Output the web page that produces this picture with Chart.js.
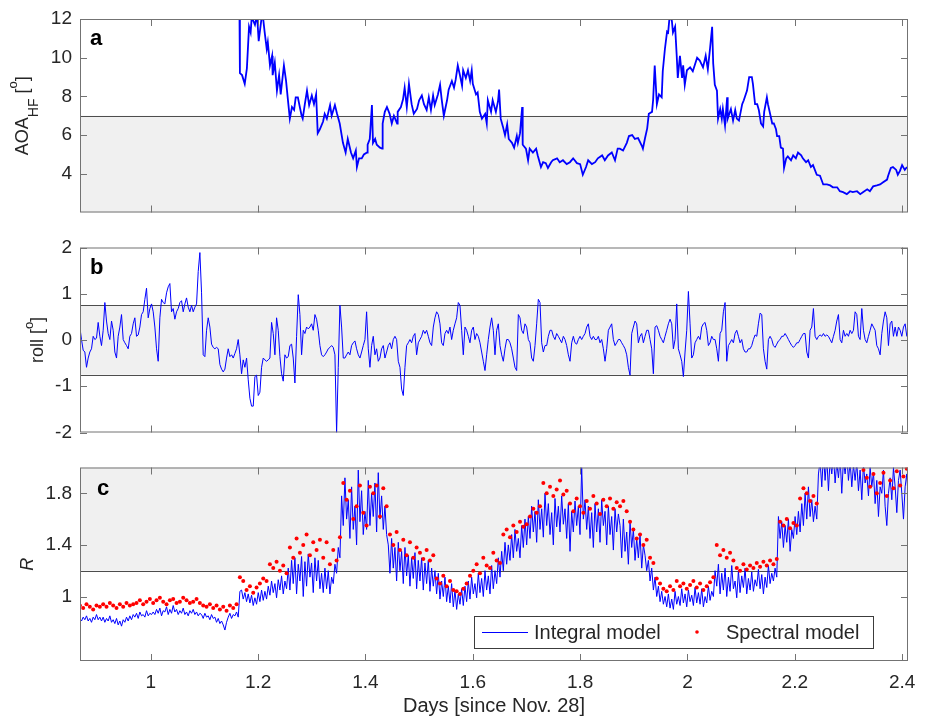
<!DOCTYPE html>
<html>
<head>
<meta charset="utf-8">
<title>AOA, roll and R</title>
<script src="https://cdn.jsdelivr.net/npm/chart.js@4.4.0/dist/chart.umd.min.js"></script>
<style>
  body { margin: 0; background: #fff; overflow: hidden; }
  #wrap { position: relative; width: 930px; height: 721px; }
  #wrap canvas { position: absolute; left: 0; }
</style>
</head>
<body>
<div id="wrap">
  <canvas id="panelA" width="930" height="230" style="top:0px"></canvas>
  <canvas id="panelB" width="930" height="220" style="top:230px"></canvas>
  <canvas id="panelC" width="930" height="271" style="top:450px"></canvas>
</div>
<script>
// axis ticks
const dayTicks = [1, 1.2, 1.4, 1.6, 1.8, 2, 2.2, 2.4];
const aoaTicks = [4, 6, 8, 10, 12];
const rollTicks = [-2, -1, 0, 1, 2];
const ratioTicks = [1, 1.4, 1.8];

// AOA_HF record (days, degrees)
const aoaDays = [
  1.165,1.166,1.170,1.175,1.179,1.183,1.186,1.188,1.194,1.198,1.201,1.207,1.209,1.212,1.216,1.218,1.222,1.226,1.227,1.231,
  1.235,1.239,1.242,1.248,1.252,1.255,1.259,1.263,1.267,1.270,1.274,1.278,1.281,1.283,1.287,1.291,1.295,1.300,1.304,1.308,
  1.311,1.315,1.321,1.324,1.328,1.334,1.337,1.343,1.347,1.352,1.358,1.363,1.367,1.373,1.377,1.382,1.384,1.388,1.393,1.397,
  1.403,1.404,1.408,1.412,1.414,1.418,1.421,1.427,1.431,1.432,1.436,1.440,1.445,1.449,1.453,1.459,1.460,1.466,1.470,1.473,
  1.477,1.481,1.486,1.490,1.496,1.500,1.505,1.509,1.514,1.518,1.522,1.526,1.529,1.535,1.539,1.542,1.546,1.552,1.555,1.561,
  1.565,1.568,1.572,1.576,1.580,1.582,1.587,1.591,1.595,1.598,1.600,1.606,1.609,1.613,1.617,1.623,1.626,1.628,1.634,1.637,
  1.643,1.647,1.649,1.652,1.656,1.660,1.664,1.667,1.673,1.677,1.682,1.684,1.688,1.692,1.693,1.699,1.703,1.706,1.712,1.718,
  1.721,1.727,1.731,1.736,1.740,1.746,1.749,1.757,1.762,1.768,1.775,1.781,1.787,1.794,1.800,1.805,1.811,1.815,1.822,1.828,
  1.833,1.841,1.846,1.852,1.859,1.865,1.870,1.874,1.880,1.887,1.891,1.897,1.902,1.908,1.915,1.917,1.921,1.925,1.928,1.934,
  1.936,1.939,1.943,1.947,1.952,1.954,1.958,1.962,1.964,1.967,1.971,1.973,1.977,1.980,1.982,1.986,1.990,1.992,1.995,1.999,
  2.005,2.010,2.018,2.023,2.029,2.034,2.038,2.042,2.046,2.048,2.051,2.055,2.057,2.061,2.064,2.066,2.070,2.074,2.075,2.081,
  2.085,2.089,2.092,2.096,2.102,2.105,2.111,2.115,2.120,2.122,2.126,2.130,2.133,2.137,2.141,2.143,2.148,2.150,2.154,2.158,
  2.161,2.165,2.167,2.171,2.174,2.178,2.180,2.184,2.187,2.193,2.197,2.202,2.206,2.212,2.215,2.221,2.225,2.230,2.234,2.241,
  2.247,2.253,2.260,2.266,2.271,2.279,2.284,2.290,2.297,2.303,2.308,2.316,2.322,2.327,2.335,2.340,2.346,2.353,2.359,2.364,
  2.372,2.374,2.379,2.383,2.389,2.392,2.396,2.400,2.405,2.409
];
const aoaValues = [
  13.0,9.2,9.1,8.65,9.45,11.6,11.3,12.1,11.7,12.2,10.85,12.2,12.1,11.35,10.45,10.8,9.6,10.1,9.1,9.75,
  8.3,9.1,8.1,9.6,8.8,7.95,6.85,7.45,7.3,7.95,7.95,7.4,7.0,6.85,7.6,8.3,7.55,8.05,7.6,8.1,
  6.1,6.3,6.7,7.1,6.85,7.55,7.0,7.55,7.1,6.6,5.6,5.1,5.8,5.1,4.8,5.2,4.35,4.8,4.8,5.0,
  5.1,5.5,5.8,7.55,5.6,5.8,5.5,5.35,5.3,6.6,7.2,7.45,7.1,6.6,7.0,6.6,7.2,7.45,7.85,8.45,
  7.45,8.65,7.6,7.1,7.35,7.8,8.05,7.6,7.3,7.95,7.3,8.05,7.55,8.1,8.6,7.85,7.0,7.8,8.35,8.8,
  8.45,8.85,9.6,9.1,8.55,9.35,8.95,9.35,8.8,9.35,8.65,8.1,8.2,7.2,6.85,7.1,6.6,7.8,7.2,7.8,
  7.2,7.75,8.35,6.85,6.45,6.0,6.55,5.8,5.6,5.35,5.95,5.6,6.1,7.45,5.5,5.3,4.7,5.3,5.1,5.3,
  4.95,4.35,4.6,4.55,4.3,4.6,4.7,4.8,4.6,4.7,4.5,4.6,4.8,4.55,4.5,3.95,4.35,4.7,4.5,4.6,
  4.8,4.95,4.7,4.95,5.1,4.7,5.3,5.3,5.2,5.6,5.95,6.0,5.8,5.85,5.45,5.3,5.85,6.35,7.1,7.2,
  7.8,9.6,7.6,8.1,7.95,9.3,10.45,11.35,11.3,12.2,11.9,11.3,11.6,10.1,8.95,10.1,8.95,9.6,8.6,9.35,
  9.5,9.3,10.0,9.85,9.5,10.1,9.4,10.45,11.6,9.7,8.6,8.3,6.85,7.35,6.85,7.35,6.5,7.95,6.85,7.35,
  6.75,7.3,6.85,6.75,7.6,7.8,8.3,9.0,9.0,8.65,7.6,7.6,7.3,6.6,6.45,7.2,7.95,7.6,7.1,6.6,
  6.6,6.3,5.95,5.95,5.35,5.3,4.3,4.8,4.9,4.7,4.95,4.8,5.1,4.95,4.8,4.6,4.7,4.35,4.45,3.95,
  3.9,3.45,3.45,3.4,3.3,3.3,3.1,3.05,2.95,3.1,3.05,3.1,2.95,3.05,3.2,3.1,3.35,3.4,3.45,3.55,
  3.7,3.9,4.3,4.35,4.2,3.95,4.15,4.45,4.2,4.35
];

// roll and integral-model R share one sampling grid
const sampleStart = 0.8677;   // days
const sampleStep = 0.003107;  // days

const rollValues = [
  0.28,0.01,-0.22,-0.26,-0.59,-0.39,-0.26,-0.19,0.08,0.01,
  0.04,0.38,0.08,-0.12,0.21,0.81,0.41,0.14,0.01,0.41,
  0.21,-0.26,-0.39,0.08,0.28,0.55,0.01,-0.06,-0.12,-0.19,
  0.08,0.14,0.35,0.48,0.08,0.11,0.28,0.55,0.61,0.88,
  1.12,0.48,0.68,0.78,0.61,0.28,-0.19,-0.46,0.48,0.88,
  0.81,0.78,1.02,1.15,1.22,0.61,0.68,0.45,0.61,0.68,
  0.81,0.85,0.61,0.78,0.91,0.71,0.61,0.75,0.61,0.71,
  0.78,1.48,1.89,1.02,-0.32,-0.36,0.21,0.48,0.28,-0.09,
  -0.16,-0.19,-0.16,-0.19,-0.53,-0.63,-0.69,-0.63,-0.39,-0.19,
  -0.36,-0.32,-0.39,-0.29,-0.19,0.01,-0.32,-0.73,-0.43,-0.59,
  -0.39,-0.86,-1.26,-1.43,-1.43,-0.79,-0.76,-1.2,-1.13,-0.59,
  -0.39,-0.43,-0.46,-0.43,-0.39,0.38,0.14,-0.32,0.48,0.21,
  -0.36,-0.73,-0.89,-0.32,-0.39,-0.36,-0.12,-0.09,-0.39,-0.93,
  0.08,0.98,0.55,-0.32,0.21,0.14,0.28,0.24,0.28,0.35,
  0.21,0.55,0.45,0.21,
  -0.12,-0.32,-0.36,-0.32,-0.26,-0.19,-0.16,-0.12,-0.16,-0.32,
  -2.0,-0.59,0.75,0.28,-0.39,-0.39,-0.32,-0.26,-0.32,-0.12,
  -0.06,-0.02,-0.19,-0.32,-0.39,-0.26,-0.12,0.01,0.61,-0.19,
  -0.59,-0.12,0.08,-0.32,-0.19,-0.46,-0.39,-0.19,-0.12,-0.39,
  -0.26,-0.12,-0.06,-0.19,0.01,0.08,0.01,-0.46,-0.59,-1.06,
  -1.2,-0.59,-0.12,-0.06,0.01,-0.06,0.08,0.14,-0.32,-0.06,
  0.01,0.08,0.21,0.14,0.21,0.08,-0.06,-0.12,0.28,0.48,
  0.61,0.55,0.35,-0.06,-0.12,0.14,0.21,0.14,0.28,0.01,
  0.21,0.35,0.48,0.81,0.75,0.21,-0.32,0.28,0.21,0.08,
  -0.06,0.21,0.28,0.01,0.14,0.08,-0.06,-0.26,-0.46,-0.66,
  -0.32,0.01,0.28,0.48,0.21,-0.32,0.21,0.35,-0.12,-0.32,
  -0.46,-0.19,0.01,0.01,-0.06,-0.19,-0.39,-0.59,-0.66,0.55,
  0.48,0.21,0.14,0.35,0.28,0.01,-0.06,-0.39,-0.46,-0.12,
  0.35,0.88,0.81,-0.06,-0.26,-0.12,-0.12,0.08,0.21,0.21,
  0.08,0.01,0.14,0.08,0.01,-0.06,0.08,0.01,-0.12,-0.32,
  -0.46,-0.06,0.08,-0.06,-0.09,0.01,0.08,0.01,0.08,0.14,
  0.28,0.35,0.08,0.01,0.08,0.01,0.01,0.08,-0.06,0.01,
  -0.19,-0.46,-0.19,0.21,0.28,0.35,0.01,-0.12,-0.06,0.01,
  0.01,-0.06,-0.12,-0.19,-0.32,-0.59,-0.76,0.14,0.28,0.41,
  0.35,-0.06,0.08,0.14,-0.06,0.08,0.21,0.21,0.01,-0.19,
  -0.73,0.28,0.31,0.21,0.08,0.01,-0.06,0.08,0.21,0.35,
  0.45,0.35,-0.19,0.01,0.78,-0.19,-0.32,-0.46,-0.79,-0.26,
  0.21,1.05,0.35,-0.39,-0.32,-0.06,0.01,0.08,0.01,0.28,
  0.35,0.38,0.21,-0.12,-0.06,0.08,0.01,0.01,-0.19,-0.46,
  0.14,0.21,0.61,0.81,-0.46,-0.12,-0.06,0.01,-0.06,0.14,
  0.21,0.08,-0.06,0.01,-0.19,-0.26,-0.26,-0.19,-0.19,-0.12,
  0.01,0.11,0.08,0.35,0.58,0.55,-0.19,-0.46,-0.63,0.01,
  0.08,0.01,-0.12,-0.16,-0.09,-0.02,0.01,0.08,0.08,0.14,
  0.08,0.01,-0.06,-0.12,-0.16,-0.12,-0.06,-0.06,0.01,0.08,
  0.14,0.14,-0.26,-0.39,0.21,0.28,0.68,0.08,0.01,0.08,
  0.11,0.08,0.14,0.08,0.11,0.08,0.01,-0.06,0.08,0.21,
  0.41,0.55,0.01,-0.06,0.21,0.08,0.14,0.08,0.21,0.14,
  0.21,0.61,0.55,0.08,0.01,0.68,0.21,0.01,-0.06,0.08,
  0.21,0.35,0.28,0.21,-0.12,-0.19,-0.32,0.14,0.41,0.61,
  0.48,-0.12,0.35,0.41,0.08,0.28,0.08,0.28,0.21,0.08,
  0.28,0.35,0.08,0.08
];

const integralValues = [
  0.83,0.81,0.84,0.82,0.85,0.81,0.83,0.80,0.84,0.82,0.86,0.82,0.84,
  0.81,0.84,0.80,0.83,0.81,0.85,0.80,0.82,0.79,0.83,0.78,0.81,0.77,0.82,0.80,0.84,0.81,0.85,0.82,0.86,
  0.84,0.87,0.83,0.88,0.85,0.86,0.84,0.89,0.85,0.87,0.86,0.88,
  0.86,0.90,0.87,0.91,0.85,0.89,0.88,0.92,0.86,0.90,0.87,0.93,0.88,0.90,0.86,0.89,0.87,0.91,0.86,0.88,0.85,0.89,0.87,0.90,0.86,0.88,0.85,0.87,
  0.86,0.83,0.87,0.84,0.85,0.82,0.86,0.83,
  0.84,0.80,0.83,0.79,0.81,0.78,0.74,0.80,
  0.84,0.87,0.83,0.86,0.85,0.88,0.84,
  1.04,1.05,0.98,1.03,0.96,1.02,0.95,1.01,0.93,0.99,0.94,1.03,0.96,1.05,0.97,1.04,0.98,
  1.08,1.01,1.12,1.03,1.10,0.99,1.13,1.05,1.16,1.02,1.12,1.06,
  1.22,1.05,1.28,1.10,1.30,1.02,1.25,1.12,1.31,1.00,1.27,1.08,1.33,1.15,1.26,1.03,1.30,1.12,1.28,1.06,
  1.18,1.03,1.22,1.06,1.20,1.02,1.15,1.10,
  1.25,1.18,1.38,1.30,
  1.78,1.55,1.92,1.60,1.75,1.45,1.85,1.52,1.70,1.40,1.98,1.58,1.82,1.48,1.66,1.52,
  1.90,1.55,1.80,1.62,1.88,1.50,1.96,1.60,1.78,1.52,1.70,1.48,
  1.40,1.18,1.45,1.22,1.38,1.12,1.42,1.20,1.35,1.10,1.38,1.16,1.32,1.08,1.30,1.14,1.34,1.06,1.28,1.12,1.30,1.05,1.26,1.10,1.28,1.04,1.22,1.08,
  1.20,1.02,1.18,0.98,1.12,1.00,1.15,0.96,1.08,0.95,1.10,0.92,1.05,0.90,1.02,0.94,1.06,0.93,1.08,0.96,
  1.12,0.98,1.15,1.02,1.10,0.99,1.18,1.03,1.14,1.00,1.20,1.05,1.16,1.02,1.24,1.06,1.20,1.10,
  1.30,1.15,1.35,1.20,1.42,1.25,1.40,1.28,1.48,1.30,1.52,1.35,1.45,1.30,1.55,1.38,1.60,1.40,
  1.62,1.45,1.70,1.50,1.66,1.42,1.75,1.52,1.68,1.46,1.80,1.55,1.72,1.48,1.65,1.40,1.76,1.54,
  1.70,1.50,1.78,1.56,1.68,1.45,1.72,1.35,1.66,1.50,1.74,1.55,1.70,1.48,2.00,1.60,1.75,1.52,
  1.70,1.45,1.65,1.38,1.72,1.50,1.68,1.42,1.75,1.55,1.66,1.40,1.70,1.48,1.62,1.36,1.68,1.50,1.64,
  1.55,1.30,1.60,1.35,1.50,1.25,1.58,1.38,1.52,1.28,1.45,1.30,1.48,1.22,1.40,
  1.32,1.20,1.28,1.12,1.22,1.05,1.15,1.00,1.08,0.96,1.04,0.94,1.00,0.92,
  1.02,0.91,0.98,0.90,1.04,0.94,1.00,0.93,1.06,0.95,1.02,0.92,1.05,0.96,1.01,0.93,1.07,0.95,1.03,0.94,1.06,0.92,1.00,0.95,1.08,0.97,1.04,1.00,
  1.20,1.08,1.25,1.02,1.18,1.05,1.22,1.00,1.15,1.04,1.24,1.06,1.12,0.99,1.20,1.03,1.16,1.07,1.22,1.02,
  1.14,1.05,1.19,1.04,1.13,1.08,1.21,1.06,1.17,1.02,1.15,1.07,1.24,1.10,1.18,1.12,1.22,1.15,
  1.62,1.45,1.58,1.38,1.55,1.42,1.60,1.35,1.52,1.45,1.62,1.48,1.66,1.50,1.72,1.55,1.80,1.60,1.85,1.62,1.75,1.58,1.70,1.60,
  1.95,2.05,1.85,2.10,1.90,2.08,1.82,2.06,1.95,2.10,1.88,2.04,1.92,2.08,1.80,2.06,1.95,2.10,1.90,2.05,1.85,2.02,
  1.90,2.04,1.82,1.98,1.75,2.02,1.88,1.95,1.78,2.00,1.85,1.96,1.72,1.90,1.62,1.85,1.80,1.98,1.70,1.55,
  1.80,1.92,1.75,2.00,1.85,1.65,1.90,1.98,1.80,1.60,1.85,1.95,1.72
];

// spectral-model R, one estimate every second sample
const spectralValues = [
  0.93,0.91,0.94,0.92,0.90,0.93,0.92,
  0.94,0.92,0.95,0.93,0.91,0.94,0.92,0.95,0.93,0.94,
  0.95,0.97,0.94,0.96,0.98,0.95,0.97,0.99,0.96,0.94,0.97,0.98,0.95,0.96,0.99,0.97,0.95,0.96,0.98,0.95,
  0.93,0.92,0.94,0.91,0.93,0.90,0.92,0.89,0.93,0.91,0.94,
  1.15,1.12,1.05,1.08,1.03,1.07,1.10,1.14,1.12,
  1.25,1.22,1.27,1.20,1.24,1.18,
  1.38,1.30,1.45,1.34,1.40,1.48,1.32,1.42,1.36,1.44,
  1.30,1.42,1.25,1.36,1.28,1.46,
  1.88,1.75,1.82,1.60,1.70,1.86,1.65,1.55,
  1.85,1.80,1.86,1.62,1.84,1.70,
  1.48,1.40,1.50,1.36,1.44,1.32,1.42,1.30,1.38,1.34,1.29,1.36,1.28,1.32,
  1.14,1.10,1.16,1.08,1.12,1.05,1.04,1.02,1.06,1.10,
  1.16,1.20,1.25,1.18,1.30,1.24,1.22,1.34,1.28,1.26,
  1.48,1.52,1.46,1.55,1.50,1.58,1.54,1.56,
  1.62,1.68,1.65,1.70,
  1.88,1.80,1.85,1.78,1.83,1.90,1.79,1.82,
  1.72,1.66,1.76,1.70,1.65,1.74,1.68,1.78,1.72,1.64,1.75,1.70,1.76,1.68,1.73,
  1.70,1.74,1.66,
  1.58,1.52,1.45,1.48,1.40,1.44,
  1.30,1.26,
  1.14,1.10,1.06,1.04,1.08,1.05,1.12,1.08,1.10,1.06,1.09,1.12,1.07,1.10,1.05,1.08,1.11,1.15,
  1.40,1.32,1.36,1.30,1.34,1.28,
  1.22,1.20,1.25,1.21,1.24,1.22,1.26,1.23,1.27,1.24,1.28,1.25,1.29,
  1.58,1.55,1.60,1.53,1.57,1.55,
  1.76,1.84,1.80,1.74,1.78,1.72,
  2.06,2.08,2.05,2.10,2.07,2.04,2.09,2.06,2.05,2.08,2.10,2.06,2.04,
  1.98,1.92,1.85,1.95,1.80,1.88,1.96,1.78,1.90,1.84,1.97,1.86,1.93,1.99
];

const dayMin = 0.868, dayMax = 2.411;

const FONT = '"Liberation Sans", Arial, Helvetica, sans-serif';
const TEXT = '#262626';
const AXIS = '#737373';
const EDGE = '#4d4d4d';
const BAND = '#f0f0f0';
const BLUE = '#0000ff';
const RED = '#ff0000';
const TICK_LEN = 7;

Chart.defaults.font.family = FONT;

const labelFont = `18px ${FONT}`;
const smallFont = `13px ${FONT}`;

// per-panel decoration: shaded band, letter, y-axis title pieces
const decor = {
  panelA: {
    band: [2, 7], letter: 'a', letterDx: 10, letterDy: 26, titleX: 28,
    yTitle: [
      { text: 'AOA', font: labelFont, shift: 0 },
      { text: 'HF', font: `14px ${FONT}`, shift: 10 },
      { text: ' [', font: labelFont, shift: 0 },
      { text: 'o', font: smallFont, shift: -11 },
      { text: ']', font: labelFont, shift: 0 }
    ]
  },
  panelB: {
    band: [-0.75, 0.75], letter: 'b', letterDx: 10, letterDy: 26, titleX: 43,
    yTitle: [
      { text: 'roll [', font: labelFont, shift: 0 },
      { text: 'o', font: smallFont, shift: -10 },
      { text: ']', font: labelFont, shift: 0 }
    ]
  },
  panelC: {
    band: [1.2, 2], letter: 'c', letterDx: 17, letterDy: 27, titleX: 33, legend: true,
    yTitle: [{ text: 'R', font: `italic 18px ${FONT}`, shift: 0 }]
  }
};

function drawYTitle(ctx, parts, baseX, midY) {
  ctx.save();
  ctx.translate(baseX, midY);
  ctx.rotate(-Math.PI / 2);
  const widths = parts.map(p => { ctx.font = p.font; return ctx.measureText(p.text).width; });
  let cx = -widths.reduce((s, w) => s + w, 0) / 2;
  ctx.fillStyle = TEXT;
  ctx.textAlign = 'left';
  ctx.textBaseline = 'alphabetic';
  parts.forEach((p, i) => {
    ctx.font = p.font;
    ctx.fillText(p.text, cx, p.shift);
    cx += widths[i];
  });
  ctx.restore();
}

function drawLegend(chart) {
  const { ctx, chartArea: a } = chart;
  const w = 399, h = 32;
  const right = a.right - 35, bottom = a.bottom - 13;
  const left = right - w, top = bottom - h, mid = top + h / 2;
  const [integral, spectral] = chart.data.datasets;
  ctx.fillStyle = '#fff';
  ctx.fillRect(left, top, w, h);
  ctx.strokeStyle = '#3c3c3c';
  ctx.lineWidth = 1;
  ctx.strokeRect(left + 0.5, top + 0.5, w, h);
  ctx.strokeStyle = integral.borderColor;
  ctx.beginPath();
  ctx.moveTo(left + 8, mid + 0.5);
  ctx.lineTo(left + 54, mid + 0.5);
  ctx.stroke();
  ctx.fillStyle = spectral.pointBackgroundColor;
  ctx.beginPath();
  ctx.arc(left + 223, mid, 1.8, 0, Math.PI * 2);
  ctx.fill();
  ctx.fillStyle = TEXT;
  ctx.font = `20px ${FONT}`;
  ctx.textAlign = 'left';
  ctx.textBaseline = 'middle';
  ctx.fillText(integral.label, left + 60, mid + 1);
  ctx.fillText(spectral.label, left + 252, mid + 1);
}

// shaded band, box, inward ticks, panel letter, y title
const framePlugin = {
  id: 'frame',
  beforeDatasetsDraw(chart) {
    const o = decor[chart.canvas.id];
    const { ctx, chartArea: a } = chart;
    const y = chart.scales.y;
    const top = y.getPixelForValue(o.band[1]);
    const bottom = y.getPixelForValue(o.band[0]);
    ctx.save();
    ctx.fillStyle = BAND;
    ctx.fillRect(a.left, top, a.right - a.left, bottom - top);
    ctx.strokeStyle = EDGE;
    ctx.lineWidth = 1.2;
    ctx.beginPath();
    o.band.forEach(v => {
      if (v <= y.min || v >= y.max) return;
      const py = Math.round(y.getPixelForValue(v)) + 0.5;
      ctx.moveTo(a.left, py);
      ctx.lineTo(a.right, py);
    });
    ctx.stroke();
    ctx.restore();
  },
  afterDatasetsDraw(chart) {
    const o = decor[chart.canvas.id];
    const { ctx, chartArea: a, scales: { x, y } } = chart;
    ctx.save();
    ctx.strokeStyle = AXIS;
    ctx.lineWidth = 1;
    ctx.strokeRect(a.left + 0.5, a.top + 0.5, a.right - a.left - 1, a.bottom - a.top - 1);
    ctx.beginPath();
    x.ticks.forEach(t => {
      const px = Math.round(x.getPixelForValue(t.value)) + 0.5;
      ctx.moveTo(px, a.bottom); ctx.lineTo(px, a.bottom - TICK_LEN);
      ctx.moveTo(px, a.top); ctx.lineTo(px, a.top + TICK_LEN);
    });
    y.ticks.forEach(t => {
      const py = Math.round(y.getPixelForValue(t.value)) + 0.5;
      ctx.moveTo(a.left, py); ctx.lineTo(a.left + TICK_LEN, py);
      ctx.moveTo(a.right, py); ctx.lineTo(a.right - TICK_LEN, py);
    });
    ctx.stroke();

    ctx.fillStyle = '#000';
    ctx.font = `bold 22px ${FONT}`;
    ctx.textAlign = 'left';
    ctx.textBaseline = 'alphabetic';
    ctx.fillText(o.letter, a.left + o.letterDx, a.top + o.letterDy);

    drawYTitle(ctx, o.yTitle, o.titleX, (a.top + a.bottom) / 2);
    if (o.legend) drawLegend(chart);
    ctx.restore();
  }
};

const tickFont = { size: 19, family: FONT };

function makePanel(id, cfg) {
  return new Chart(document.getElementById(id), {
    type: 'line',
    data: { datasets: cfg.datasets },
    options: {
      responsive: false,
      animation: false,
      events: [],
      layout: { padding: cfg.padding },
      plugins: {
        legend: { display: false },
        tooltip: { enabled: false }
      },
      scales: {
        x: {
          type: 'linear',
          min: dayMin,
          max: dayMax,
          grid: { display: false, drawTicks: false },
          border: { display: false },
          afterBuildTicks: s => { s.ticks = dayTicks.map(v => ({ value: v })); },
          afterFit: s => { s.height = cfg.xHeight; },
          ticks: { display: cfg.xLabels, padding: 10, color: TEXT, font: tickFont, maxRotation: 0, callback: v => String(v) },
          title: {
            display: cfg.xLabels,
            text: 'Days [since Nov. 28]',
            color: TEXT,
            font: { size: 20, family: FONT },
            padding: { top: 0, bottom: 3 }
          }
        },
        y: {
          type: 'linear',
          min: cfg.yMin,
          max: cfg.yMax,
          grid: { display: false, drawTicks: false },
          border: { display: false },
          afterBuildTicks: s => { s.ticks = cfg.yTicks.map(v => ({ value: v })); },
          afterFit: s => { s.width = 80; },
          ticks: { padding: 8, color: TEXT, font: { ...tickFont, lineHeight: 1 }, callback: v => String(v) }
        }
      }
    },
    plugins: [framePlugin]
  });
}

const aoaPoints = aoaDays.map((d, i) => ({ x: d, y: aoaValues[i] }));
const rollPoints = rollValues.map((v, i) => ({ x: sampleStart + i * sampleStep, y: v }));
const integralPoints = integralValues.map((v, i) => ({ x: sampleStart + i * sampleStep, y: v }));
const spectralPoints = spectralValues.map((v, i) => ({ x: sampleStart + 2 * i * sampleStep, y: v }));

makePanel('panelA', {
  padding: { top: 19, right: 22, bottom: 12, left: 0 },
  xHeight: 0, xLabels: false,
  yMin: 2, yMax: 12, yTicks: aoaTicks,
  datasets: [{
    data: aoaPoints, borderColor: BLUE, borderWidth: 1.8, pointRadius: 0, tension: 0
  }]
});

makePanel('panelB', {
  padding: { top: 11, right: 22, bottom: 10, left: 0 },
  xHeight: 0, xLabels: false,
  yMin: -2, yMax: 2, yTicks: rollTicks,
  datasets: [{
    data: rollPoints, borderColor: BLUE, borderWidth: 1, pointRadius: 0, tension: 0
  }]
});

makePanel('panelC', {
  padding: { top: 13, right: 22, bottom: 0, left: 0 },
  xHeight: 60, xLabels: true,
  yMin: 0.5, yMax: 2, yTicks: ratioTicks,
  datasets: [
    {
      label: 'Integral model', data: integralPoints, borderColor: BLUE, borderWidth: 1,
      pointRadius: 0, tension: 0, order: 2
    },
    {
      label: 'Spectral model', data: spectralPoints, showLine: false, pointRadius: 2,
      pointBackgroundColor: RED, pointBorderWidth: 0, borderColor: RED, order: 1
    }
  ]
});
</script>
</body>
</html>
